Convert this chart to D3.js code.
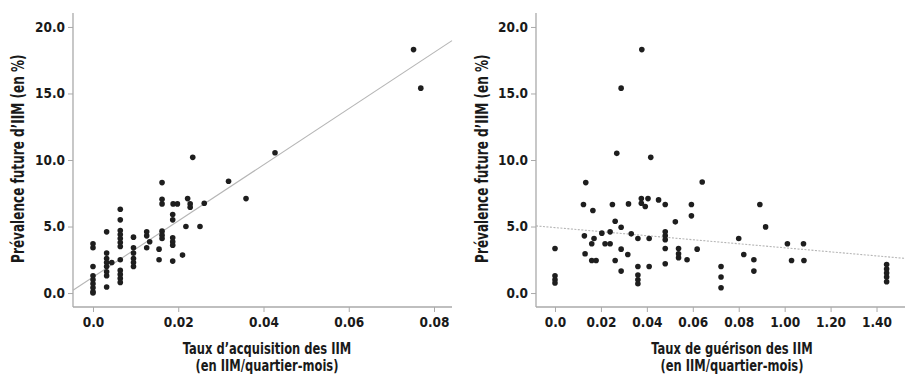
<!DOCTYPE html>
<html>
<head>
<meta charset="utf-8">
<script src="https://cdnjs.cloudflare.com/ajax/libs/d3/7.8.5/d3.min.js"></script>
<style>
  body { margin: 0; background: #fff; }
  svg { display: block; }
  text { font-family: "DejaVu Sans Condensed", "Liberation Sans Narrow", "DejaVu Sans", sans-serif; font-weight: bold; fill: #1a1a1a; }
</style>
</head>
<body>
<script>
// left panel: taux d'acquisition vs prevalence future
var acquisition = [
    0, 0, 0, 0, 0, 0, 0, 0, 0,
    0.0032, 0.0032, 0.0032, 0.0032, 0.0032, 0.0032, 0.0032, 0.0032, 0.0044,
    0.0064, 0.0064, 0.0064, 0.0064, 0.0064, 0.0064, 0.0064, 0.0064, 0.0064, 0.0064, 0.0064, 0.0064,
    0.0095, 0.0095, 0.0095, 0.0095, 0.0095, 0.0095,
    0.0126, 0.0126, 0.0126, 0.0133,
    0.0155, 0.0155,
    0.0162, 0.0162, 0.0162, 0.0162, 0.0162, 0.0162,
    0.0187, 0.0187, 0.0187, 0.0187, 0.0187, 0.0187, 0.0188, 0.0198,
    0.021, 0.0218, 0.0222, 0.0228, 0.0228, 0.0234, 0.0251, 0.0261,
    0.0318, 0.0359, 0.0427, 0.0752, 0.0769
]
var prevalenceA = [
    3.7, 3.4, 2.0, 1.3, 1.0, 0.7, 0.4, 0.1, 0.0,
    4.6, 3.0, 2.6, 2.3, 2.0, 1.6, 1.3, 0.45, 2.3,
    6.3, 5.5, 4.7, 4.4, 4.1, 3.8, 3.5, 2.5, 1.7, 1.4, 1.1, 0.8,
    4.2, 3.4, 3.0, 2.6, 2.3, 2.0,
    4.6, 4.3, 3.4, 3.85,
    3.3, 2.5,
    8.3, 7.05, 6.7, 4.65, 4.35, 4.1,
    5.9, 5.5, 4.15, 3.85, 3.6, 2.4, 6.7, 6.7,
    2.85, 5.0, 7.1, 6.7, 6.45, 10.2, 5.0, 6.75,
    8.4, 7.1, 10.55, 18.3, 15.4
]
var fitA = { intercept: 1.2, slope: 211 }

// right panel: taux de guerison vs prevalence future
var cure = [
    0, 0, 0, 0,
    0.0124, 0.0128, 0.0131, 0.0134,
    0.0165, 0.016, 0.017, 0.016, 0.0179,
    0.0204, 0.0218, 0.024, 0.024,
    0.025, 0.0262, 0.0262, 0.0269,
    0.0288, 0.0288, 0.0288, 0.0288,
    0.032, 0.0317, 0.0332,
    0.0361, 0.0361, 0.0361, 0.0361, 0.0361,
    0.0376, 0.0376, 0.0378, 0.0393, 0.0405,
    0.041, 0.041, 0.0417,
    0.0451, 0.048, 0.048, 0.048, 0.048, 0.048, 0.048,
    0.0524, 0.0538, 0.0538, 0.0538, 0.0575,
    0.0594, 0.0594, 0.0619, 0.0641,
    0.0723, 0.0723, 0.0723,
    0.080, 0.0822, 0.0866, 0.0866, 0.0892, 0.0917,
    0.1012, 0.1082, 0.103, 0.1084,
    0.1444, 0.1444, 0.1444, 0.1444, 0.1444
]
var prevalenceB = [
    3.35, 1.3, 1.0, 0.75,
    6.65, 4.3, 2.95, 8.3,
    6.2, 3.7, 4.1, 2.45, 2.45,
    4.5, 3.7, 3.7, 4.6,
    6.65, 5.4, 2.45, 10.5,
    15.4, 4.95, 3.3, 1.65,
    6.7, 2.9, 4.45,
    4.1, 2.0, 1.35, 1.0, 0.7,
    7.1, 6.75, 18.3, 6.5, 7.1,
    4.1, 2.0, 10.2,
    7.0, 6.65, 4.6, 4.3, 4.0, 3.35, 2.2,
    5.35, 3.35, 2.95, 2.65, 2.5,
    6.65, 5.8, 3.3, 8.35,
    2.0, 1.2, 0.4,
    4.1, 2.9, 2.5, 1.65, 6.65, 4.97,
    3.7, 3.7, 2.45, 2.45,
    2.15, 1.8, 1.5, 1.2, 0.85
]
var fitB = { intercept: 4.92, slope: -15.2 }

var yTicks = [0, 5, 10, 15, 20]
var leftXTicks = [0, 0.02, 0.04, 0.06, 0.08]
var rightXTicks = [0, 0.02, 0.04, 0.06, 0.08, 0.10, 0.12, 0.14]
var rightXLabels = ["0.0", "0.02", "0.04", "0.06", "0.08", "1.00", "1.20", "1.40"]

var yTitle = "Prévalence future d\u2019IIM (en %)"

var d = svg()

panel({
    xs: acquisition, ys: prevalenceA, fit: fitA,
    xDomain: [-0.00469, 0.08422], xRange: [73, 452],
    yRange: [307, 13], xTicks: leftXTicks,
    xFormat: function (v) { return v === 0 ? "0.0" : d3.format(".2f")(v) },
    yTitleX: 23.5, xTitleX: 267,
    xTitle: ["Taux d\u2019acquisition des IIM", "(en IIM/quartier-mois)"],
    dash: null
})

panel({
    xs: cure, ys: prevalenceB, fit: fitB,
    xDomain: [-0.00827, 0.1524], xRange: [536, 905],
    yRange: [307, 13], xTicks: rightXTicks,
    xFormat: function (v, i) { return rightXLabels[i] },
    yTitleX: 487.5, xTitleX: 732,
    xTitle: ["Taux de guérison des IIM", "(en IIM/quartier-mois)"],
    dash: "2,1.5"
})

function svg() {
    return d3.select('body')
        .append("svg")
        .attr("width", 905)
        .attr("height", 375)
}

function panel(p) {
    var x = d3.scaleLinear().domain(p.xDomain).range(p.xRange)
    var y = d3.scaleLinear().domain([-1.05, 21.05]).range(p.yRange)
    var g = d.append('g')

    g.append('g')
        .attr('transform', `translate(${p.xRange[0]},0)`)
        .call(d3.axisLeft(y).tickValues(yTicks).tickSize(5).tickPadding(3)
            .tickFormat(d3.format(".1f")))
    g.append('g')
        .attr('transform', `translate(0,${p.yRange[0]})`)
        .call(d3.axisBottom(x).tickValues(p.xTicks).tickSize(5).tickPadding(5)
            .tickFormat(p.xFormat))

    // grey axis lines, no end caps
    g.selectAll('.domain').remove()
    g.selectAll('.tick line').attr('stroke', '#aaa')
    g.selectAll('.tick text').style('font-size', '13.5px').attr('fill', '#1a1a1a')

    g.append('line')
        .attr('x1', p.xRange[0]).attr('x2', p.xRange[0])
        .attr('y1', p.yRange[1]).attr('y2', p.yRange[0])
        .attr('stroke', '#aaa').attr('stroke-width', 1.3)
    g.append('line')
        .attr('x1', p.xRange[0]).attr('x2', p.xRange[1])
        .attr('y1', p.yRange[0]).attr('y2', p.yRange[0])
        .attr('stroke', '#aaa').attr('stroke-width', 1.3)

    // fit line over the whole x range
    var fx = p.xDomain
    g.append('line')
        .attr('x1', x(fx[0])).attr('y1', y(p.fit.intercept + p.fit.slope * fx[0]))
        .attr('x2', x(fx[1])).attr('y2', y(p.fit.intercept + p.fit.slope * fx[1]))
        .attr('stroke', '#b5b5b5')
        .attr('stroke-width', 1.1)
        .attr('stroke-dasharray', p.dash)

    var pts = p.xs.map(function (v, i) { return { x: v, y: p.ys[i] } })
    g.selectAll('circle.dot').data(pts).enter()
        .append('circle')
        .attr('class', 'dot')
        .attr('cx', function (v) { return x(v.x) })
        .attr('cy', function (v) { return y(v.y) })
        .attr('r', 2.8)
        .attr('fill', '#1e1e1e')

    // titles: condensed look by squeezing along the text direction
    g.append('text')
        .attr('transform', `translate(${p.yTitleX},${y(10.1)}) rotate(-90) scale(0.79,1)`)
        .attr('text-anchor', 'middle')
        .style('font-size', '17px')
        .text(yTitle)

    g.selectAll('text.xt').data(p.xTitle).enter()
        .append('text')
        .attr('class', 'xt')
        .attr('transform', function (t, i) {
            return `translate(${p.xTitleX},${354 + i * 17}) scale(0.8,1)`
        })
        .attr('text-anchor', 'middle')
        .style('font-size', '16px')
        .text(function (t) { return t })
}
</script>
</body>
</html>
